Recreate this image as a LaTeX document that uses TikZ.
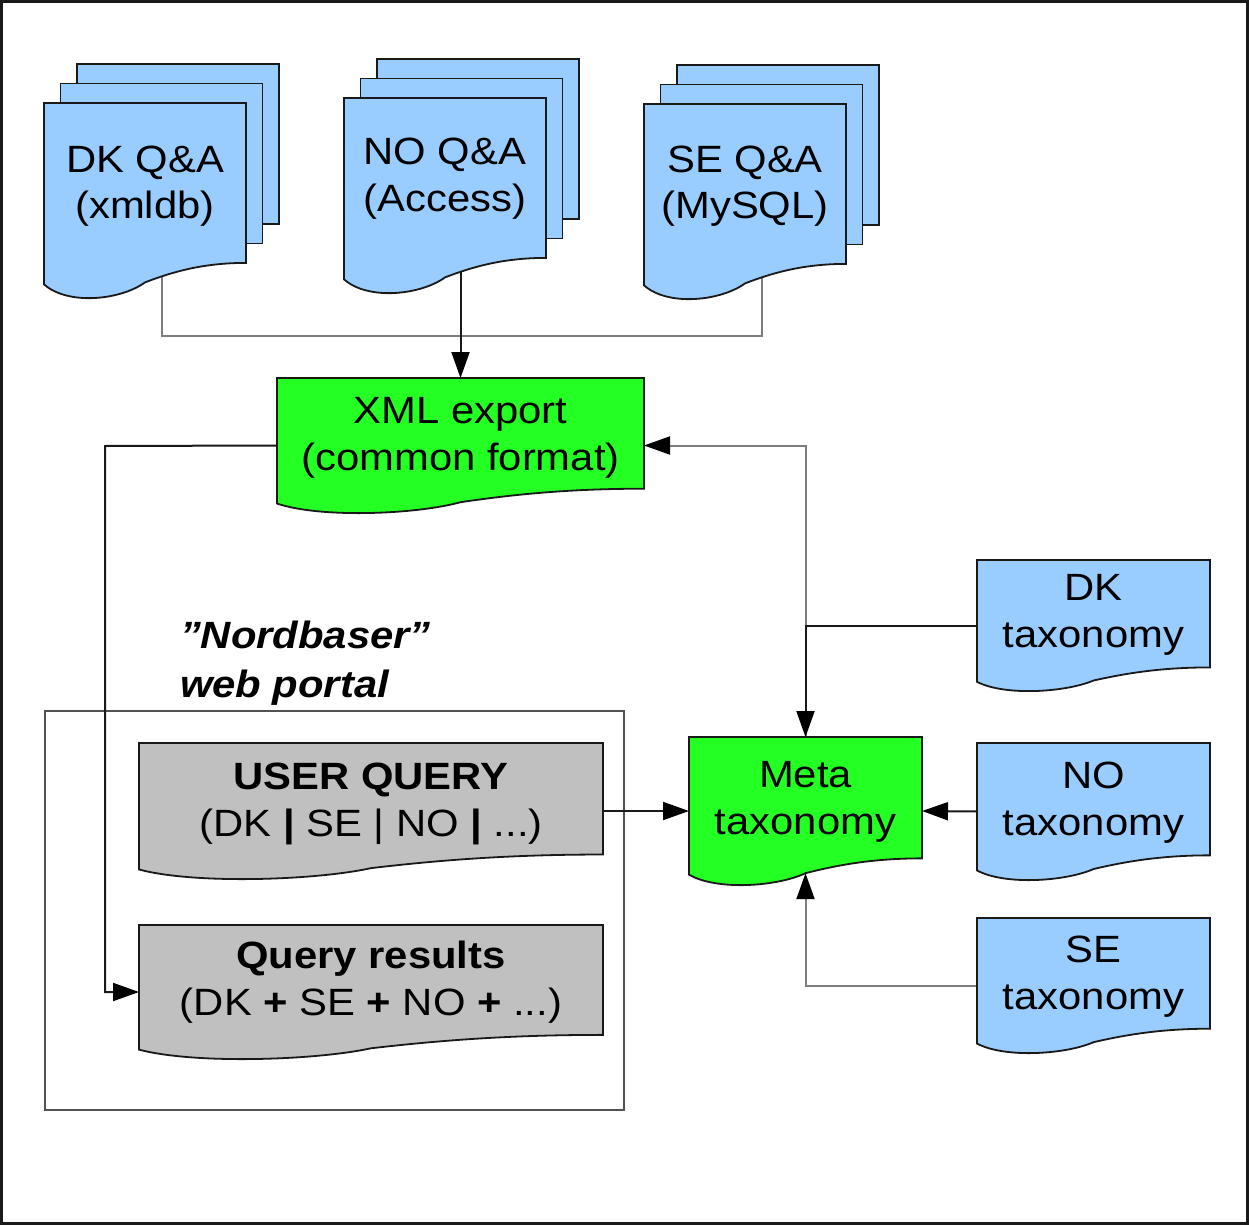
\documentclass[tikz,border=0pt]{standalone}
\usepackage{fontspec}
\setmainfont{Liberation Sans}[FakeStretch=1.1]
\usetikzlibrary{arrows.meta,calc}
\definecolor{qablue}{RGB}{153,204,255}
\definecolor{mgreen}{RGB}{36,255,36}
\definecolor{qgray}{RGB}{192,192,192}
\definecolor{lgray}{RGB}{125,125,125}
\definecolor{dline}{RGB}{25,25,25}
\newcommand\docshape[2]{%
  \filldraw[docline,fill=#2] let \p1=(#1.north west), \p2=(#1.south east),
    \n1={\x2-\x1}, \n2={\y1-\y2} in
    (\x1,\y1) -- (\x2,\y1) -- (\x2,{\y1-0.82*\n2})
    .. controls ({\x2-0.2*\n1},{\y1-0.82*\n2}) and ({\x1+0.65*\n1},{\y1-0.86*\n2})
    .. ({\x1+0.5*\n1},{\y1-0.92*\n2})
    .. controls ({\x1+0.38*\n1},{\y1-1.01*\n2}) and ({\x1+0.12*\n1},{\y1-1.04*\n2})
    .. (\x1,{\y1-0.93*\n2}) -- cycle;}
\newcommand\two[2]{\begin{tabular}[t]{@{}c@{}}#1\\#2\end{tabular}}
\newcommand\qastack[3]{%
  \node[box, minimum width=235pt, minimum height=234pt] (#1) at (#2,#3) {};
  \node[page, anchor=north east] (#1back) at (#1.north east) {};
  \node[page, anchor=north east] (#1mid) at ([xshift=-16.5pt,yshift=-19.5pt]#1.north east) {};
  \node[box, minimum width=202pt, minimum height=195pt, anchor=south west] (#1front) at (#1.south west) {};}
\tikzset{
  docline/.style={draw=dline, line width=1.8pt},
  box/.style={draw=none, inner sep=0pt, outer sep=0pt, anchor=north west},
  page/.style={box, draw=dline, line width=1.8pt, fill=qablue, minimum width=202pt, minimum height=160pt},
  txt/.style={inner sep=0pt, outer sep=0pt, anchor=base, font=\fontsize{38}{47}\selectfont},
  conn/.style={draw=dline, line width=2pt},
  gconn/.style={draw=lgray, line width=2pt},
  tip/.style={-{Triangle[length=26pt,width=18pt,color=black]}},
  arr/.style={conn, tip},
  garr/.style={gconn, tip},
  frame/.style={draw=dline, line width=3pt},
  portalbox/.style={draw=dline!75, line width=1.8pt},
}
\begin{document}
\begin{tikzpicture}[x=1pt,y=-1pt]
\useasboundingbox (0,0) rectangle (1249,1225);
% ---- nodes (positions) ----
\qastack{dk}{44}{64}
\qastack{no}{344}{59}
\qastack{se}{644}{65}
\node[box, minimum width=367pt, minimum height=135pt] (xml) at (277,378) {};
\node[box, minimum width=233pt, minimum height=148pt] (meta) at (689,737) {};
\node[box, minimum width=233pt, minimum height=131pt] (dktax) at (977,560) {};
\node[box, minimum width=233pt, minimum height=137pt] (notax) at (977,743) {};
\node[box, minimum width=233pt, minimum height=135pt] (setax) at (977,918) {};
\node[box, minimum width=464pt, minimum height=136pt] (uq) at (139,743) {};
\node[box, minimum width=464pt, minimum height=134pt] (qr) at (139,925) {};
\node[box, portalbox, minimum width=579pt, minimum height=399pt] (portal) at (45,711) {};
\coordinate (bus) at (461,336);
\coordinate (lx) at (105,446);
% ---- connectors ----
\draw[gconn] (dk.center) |- (bus) -| (se.center);
\draw[arr] (xml.north |- no.center) -- (xml.north);
\draw[arr] (xml.west) -- (lx) |- (qr.west);
\draw[garr] (meta.north) |- (xml.east);
\draw[arr] (dktax.west) -| (meta.north);
\draw[arr] (notax.west) -- (meta.east);
\draw[arr] (uq.east) -- (meta.west);
\draw[garr] (setax.west) -| ($(meta.north)!0.92!(meta.south)$);
% ---- shapes ----
\docshape{dkfront}{qablue}
\docshape{nofront}{qablue}
\docshape{sefront}{qablue}
\docshape{xml}{mgreen}
\docshape{meta}{mgreen}
\docshape{dktax}{qablue}
\docshape{notax}{qablue}
\docshape{setax}{qablue}
\docshape{uq}{qgray}
\docshape{qr}{qgray}
% ---- texts ----
\node[txt] (dkt) at ([yshift=-69pt]dkfront.north) {\two{DK Q\&A}{(xmldb)}};
\node[txt] (not) at ([yshift=-67pt]nofront.north) {\two{NO Q\&A}{(Access)}};
\node[txt] (set) at ([yshift=-68pt]sefront.north) {\two{SE Q\&A}{(MySQL)}};
\node[txt] (xmlt) at ([yshift=-45pt]xml.north) {\two{XML export}{(common format)}};
\node[txt] (metat) at ([yshift=-50pt]meta.north) {\two{Meta}{taxonomy}};
\node[txt] (dktaxt) at ([yshift=-40pt]dktax.north) {\two{DK}{taxonomy}};
\node[txt] (notaxt) at ([yshift=-45pt]notax.north) {\two{NO}{taxonomy}};
\node[txt] (setaxt) at ([yshift=-44pt]setax.north) {\two{SE}{taxonomy}};
\node[txt] (uqt) at ([yshift=-46pt]uq.north) {\two{\textbf{USER QUERY}}{(DK \textbf{|} SE | NO \textbf{|} ...)}};
\node[txt] (qrt) at ([yshift=-43pt]qr.north) {\two{\textbf{Query results}}{(DK \textbf{+} SE \textbf{+} NO \textbf{+} ...)}};
\node[txt, anchor=base west, font=\fontsize{38}{49}\selectfont\bfseries\itshape] (lbl) at (180,648)
  {\begin{tabular}[t]{@{}l@{}}”Nordbaser”\\web portal\end{tabular}};
% ---- frame ----
\draw[frame] (1.5,1.5) rectangle (1247.5,1223.5);
\end{tikzpicture}
\end{document}
